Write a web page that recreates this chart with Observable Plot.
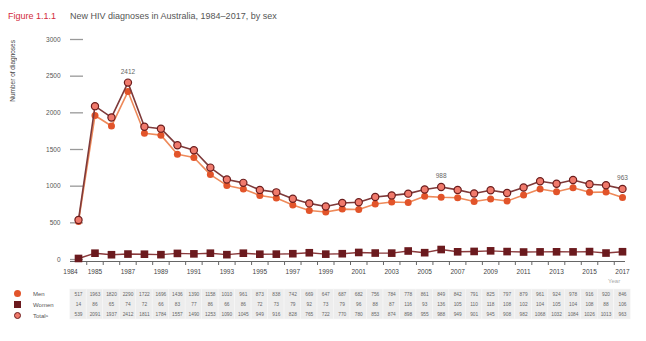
<!DOCTYPE html>
<html><head><meta charset="utf-8">
<script src="https://cdn.jsdelivr.net/npm/d3@7"></script>
<script src="https://cdn.jsdelivr.net/npm/@observablehq/plot@0.6"></script>
<style>
body{margin:0;background:#fff;font-family:"Liberation Sans",Arial,sans-serif;}
#wrap{position:relative;width:646px;height:341px;overflow:hidden;}
#title{position:absolute;left:8px;top:11px;font-size:9px;color:#555;white-space:nowrap;}
#title b{color:#d22a3c;font-weight:normal;margin-right:14px;}
#ytitle{position:absolute;left:9px;top:40px;font-size:6.5px;color:#444;writing-mode:vertical-rl;transform:rotate(180deg);white-space:nowrap;}
#chart{position:absolute;left:0;top:0;}
#table{position:absolute;left:0;top:280px;}
#legend{position:absolute;left:14px;top:288px;font-size:6px;color:#555;}
#legend div{height:11px;display:flex;align-items:center;}
#legend span.m{display:inline-block;width:7px;height:7px;margin-right:12px;box-sizing:border-box;}
#yearlab{position:absolute;left:608px;top:278px;font-size:6px;color:#aaa;}
</style></head>
<body><div id="wrap">
<div id="title"><b>Figure 1.1.1</b>New HIV diagnoses in Australia, 1984–2017, by sex</div>
<div id="ytitle">Number of diagnoses</div>
<div id="chart"></div>
<div id="table"></div>
<div id="yearlab">Year</div>
<div id="legend">
<div><span class="m" style="background:#e2542a;border-radius:50%"></span>Men</div>
<div><span class="m" style="background:#6b1a1e"></span>Women</div>
<div><span class="m" style="background:#f07a6c;border:1.3px solid #6b1d1d;border-radius:50%"></span>Total<sup style="font-size:4px">a</sup></div>
</div>
</div>
<script>
const years = d3.range(1984, 2018);
const men = [517,1963,1820,2290,1722,1696,1436,1390,1158,1010,961,873,838,742,669,647,687,682,756,784,778,861,849,842,791,825,797,879,961,924,978,916,920,846];
const women = [14,86,65,74,72,66,83,77,86,66,86,72,73,79,92,73,79,96,88,87,116,93,136,105,110,118,108,102,104,105,104,108,88,106];
const total = [539,2091,1937,2412,1811,1784,1557,1490,1253,1090,1045,949,916,828,765,722,770,780,853,874,898,955,988,949,901,945,908,982,1068,1032,1084,1026,1013,963];
const yTicks = [0,500,1000,1500,2000,2500,3000];
const xLabelYears = d3.range(1985, 2018, 2);
const annotated = [1987, 2006, 2017];

const menData = years.map((y,i)=>({year:y, v:men[i]}));
const womenData = years.map((y,i)=>({year:y, v:women[i]}));
const totalData = years.map((y,i)=>({year:y, v:total[i]}));
const ann = totalData.filter(d=>annotated.includes(d.year));
const bounds = years.map(y=>y+0.5);

const font = "Liberation Sans, Arial, sans-serif";

const chart = Plot.plot({
  width:646, height:282, marginLeft:70, marginRight:22, marginTop:30, marginBottom:21,
  style:{fontFamily:font, background:"transparent"},
  x: {domain:[1984,2017], range:[78,622], axis:null},
  y: {domain:[0,3000], range:[259,39], axis:null},
  marks:[
    Plot.axisY({ticks:yTicks, tickSize:-13, tickPadding:23, stroke:"#999", strokeWidth:1.3, fill:"#555", fontSize:6.5, label:null, tickFormat:d=>String(d)}),
    Plot.frame({anchor:"bottom", stroke:"#666"}),
    Plot.axisX({ticks:bounds.slice(0,-1), tickSize:4, stroke:"#666", tickFormat:()=>"", label:null}),
    Plot.axisX({ticks:xLabelYears, tickSize:0, tickPadding:8, fill:"#444", fontSize:6.5, tickFormat:d=>String(d), label:null}),
    Plot.text([1984], {x:d=>d, frameAnchor:"bottom", dy:8, dx:-8, text:d=>String(d), fill:"#444", fontSize:6.5, textAnchor:"middle", lineAnchor:"top"}),
    Plot.line(womenData, {x:"year", y:"v", stroke:"#8a3a3c", strokeWidth:1.4}),
    Plot.dot(womenData, {x:"year", y:"v", symbol:"square", r:4.3, fill:"#6b1a1e"}),
    Plot.line(menData, {x:"year", y:"v", stroke:"#ee8a5a", strokeWidth:1.6}),
    Plot.dot(menData, {x:"year", y:"v", r:3.5, fill:"#e2542a"}),
    Plot.line(totalData, {x:"year", y:"v", stroke:"#7e3a3a", strokeWidth:1.6}),
    Plot.dot(totalData, {x:"year", y:"v", r:3.6, fill:"#f07a6c", stroke:"#6b1d1d", strokeWidth:1.2}),
    Plot.text(ann, {x:"year", y:"v", text:d=>String(d.v), dy:-11, fill:"#666", fontSize:6.5})
  ]
});
document.getElementById("chart").appendChild(chart);

const rows = [];
years.forEach((y,i)=>{
  rows.push({year:y, row:0, v:men[i]});
  rows.push({year:y, row:1, v:women[i]});
  rows.push({year:y, row:2, v:total[i]});
});
const table = Plot.plot({
  width:646, height:50, marginLeft:70, marginRight:22, marginTop:0, marginBottom:0,
  style:{fontFamily:font, background:"transparent"},
  x: {domain:[1984,2017], range:[78,622], axis:null},
  y: {domain:[0,2], range:[14,34], axis:null},
  marks:[
    Plot.rect(years, {x1:d=>d-0.5, x2:d=>d+0.5, y1:-0.5, y2:2.5, fill:"#ededed", stroke:"#f7f7f7", strokeWidth:0.6}),
    Plot.text(rows, {x:"year", y:"row", text:d=>String(d.v), fill:"#666", fontSize:4.8})
  ]
});
document.getElementById("table").appendChild(table);
</script>
</body></html>
